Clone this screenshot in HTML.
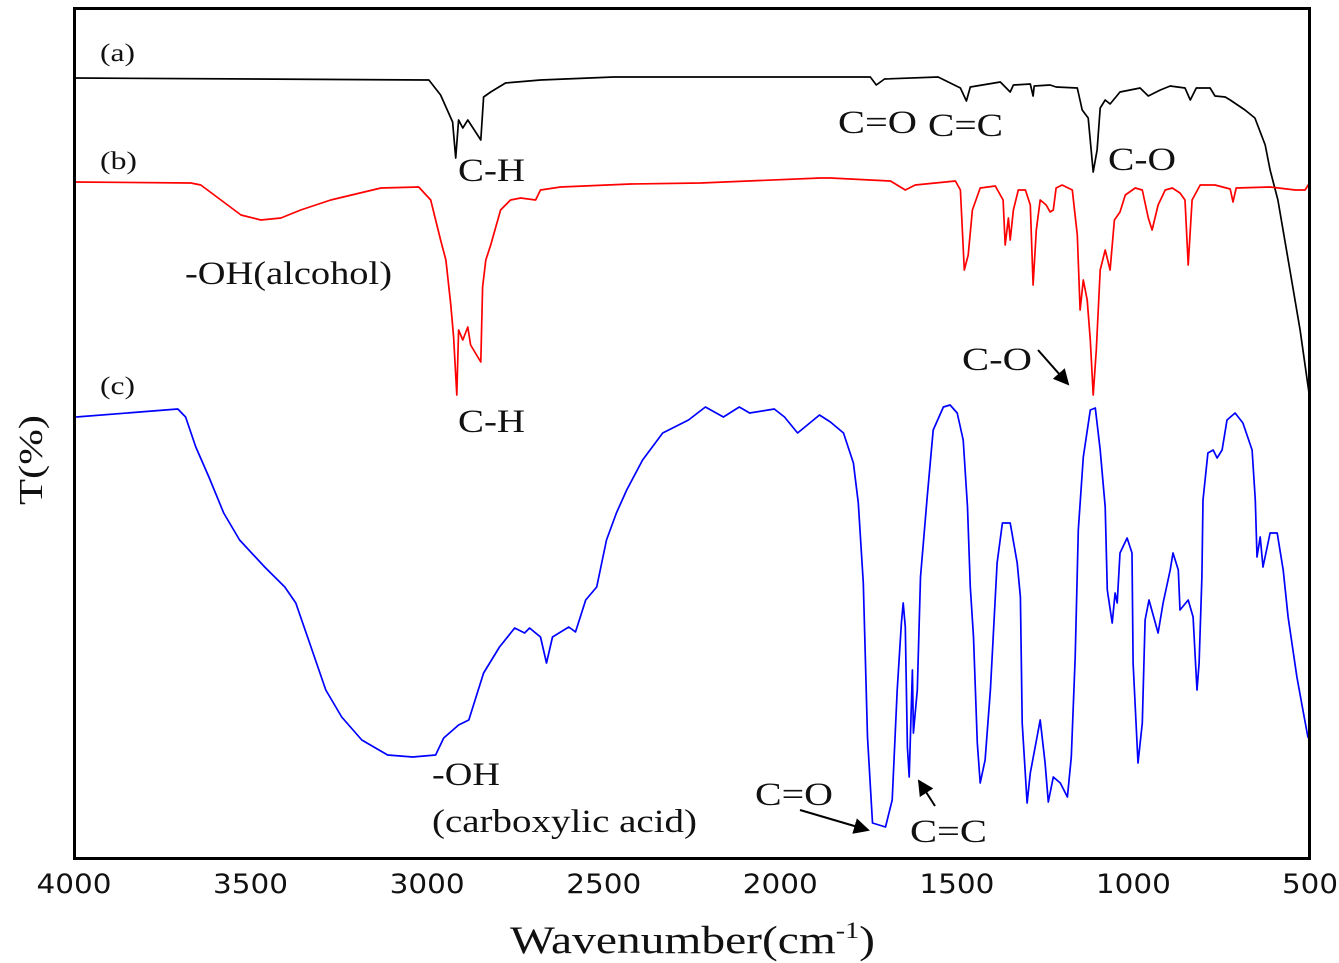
<!DOCTYPE html>
<html><head><meta charset="utf-8"><style>
html,body{margin:0;padding:0;background:#fff;}
svg{display:block;}
.lab{font-family:"Liberation Serif",serif;fill:#111;}
.tick{font-family:"DejaVu Sans","Liberation Sans",sans-serif;font-size:27px;fill:#111;}
</style></head><body>
<svg id="chart" width="1339" height="963" viewBox="0 0 1339 963">
<defs><marker id="ah" markerWidth="8" markerHeight="8" refX="7" refY="4" orient="auto" markerUnits="strokeWidth"><path d="M0,0 L8,4 L0,8 z" fill="#000"/></marker></defs>
<g id="series"></g>
<rect x="74.5" y="8.5" width="1235" height="850" fill="none" stroke="#000" stroke-width="3"/>
<g id="ticks"></g>
<text class="lab" x="100" y="61" font-size="25" textLength="35" lengthAdjust="spacingAndGlyphs">(a)</text>
<text class="lab" x="100" y="169" font-size="25" textLength="37" lengthAdjust="spacingAndGlyphs">(b)</text>
<text class="lab" x="100" y="394" font-size="25" textLength="35" lengthAdjust="spacingAndGlyphs">(c)</text>
<text class="lab" x="458" y="181" font-size="33" textLength="67" lengthAdjust="spacingAndGlyphs">C-H</text>
<text class="lab" x="838" y="133" font-size="33" textLength="79" lengthAdjust="spacingAndGlyphs">C=O</text>
<text class="lab" x="928" y="136" font-size="33" textLength="75" lengthAdjust="spacingAndGlyphs">C=C</text>
<text class="lab" x="1108" y="170" font-size="33" textLength="68" lengthAdjust="spacingAndGlyphs">C-O</text>
<text class="lab" x="185" y="284" font-size="33" textLength="207" lengthAdjust="spacingAndGlyphs">-OH(alcohol)</text>
<text class="lab" x="458" y="432" font-size="33" textLength="67" lengthAdjust="spacingAndGlyphs">C-H</text>
<text class="lab" x="962" y="370" font-size="33" textLength="70" lengthAdjust="spacingAndGlyphs">C-O</text>
<line x1="1038" y1="350" x2="1068" y2="384" stroke="#000" stroke-width="2" marker-end="url(#ah)"/>
<text class="lab" x="432" y="785" font-size="33" textLength="68" lengthAdjust="spacingAndGlyphs">-OH</text>
<text class="lab" x="432" y="832" font-size="33" textLength="265" lengthAdjust="spacingAndGlyphs">(carboxylic acid)</text>
<text class="lab" x="755" y="805" font-size="33" textLength="78" lengthAdjust="spacingAndGlyphs">C=O</text>
<line x1="800" y1="810" x2="868" y2="830" stroke="#000" stroke-width="2" marker-end="url(#ah)"/>
<text class="lab" x="910" y="842" font-size="33" textLength="77" lengthAdjust="spacingAndGlyphs">C=C</text>
<line x1="935" y1="806" x2="919" y2="781" stroke="#000" stroke-width="2" marker-end="url(#ah)"/>
<text class="lab" transform="translate(42,460) rotate(-90)" text-anchor="middle" font-size="34" textLength="90" lengthAdjust="spacingAndGlyphs">T(%)</text>
<text class="lab" x="510" y="953" font-size="39" textLength="365" lengthAdjust="spacingAndGlyphs">Wavenumber(cm<tspan dy="-15" font-size="23">-1</tspan><tspan dy="15">)</tspan></text>
</svg>
<script>
const xTicks = [4000,3500,3000,2500,2000,1500,1000,500];
const aWn = [4000,2995,2962,2928,2919,2911,2899,2885,2848,2840,2820,2778,2679,2472,1858,1745,1728,1705,1553,1490,1473,1462,1377,1349,1340,1292,1284,1281,1236,1219,1159,1145,1128,1114,1103,1094,1080,1066,1038,981,958,924,896,854,839,822,783,769,740,726,684,656,627,613,591,557,528,500];
const aT = [780,778,763,736,700,738,730,738,718,761,766,775,778,781,781,781,773,779,781,770,757,771,776,766,773,774,762,772,773,771,770,748,740,686,708,750,758,754,766,770,762,768,772,770,758,770,770,762,761,758,748,740,713,688,658,588,528,458];
const bWn = [4000,3669,3641,3584,3527,3471,3414,3358,3273,3131,3024,2990,2962,2947,2933,2925,2916,2911,2899,2885,2877,2848,2843,2834,2820,2792,2764,2735,2693,2679,2622,2424,2226,1886,1858,1688,1646,1618,1504,1490,1479,1468,1456,1434,1391,1369,1363,1354,1349,1340,1326,1306,1292,1284,1275,1264,1247,1236,1227,1219,1202,1173,1159,1151,1142,1131,1122,1114,1105,1094,1080,1066,1054,1038,1023,995,975,958,947,930,910,890,868,854,845,834,811,769,726,718,709,613,542,514,505,500];
const bT = [676,675,673,658,643,638,640,648,658,670,671,658,618,598,553,521,463,528,518,531,513,496,571,598,613,648,658,660,658,668,671,674,675,680,680,677,668,673,677,668,588,603,648,670,672,658,613,640,618,648,668,668,653,573,628,658,653,646,648,670,673,668,623,548,578,558,518,463,508,588,608,588,638,646,663,670,668,640,628,653,668,670,665,658,593,658,673,673,669,656,670,671,668,668,673,673];
const cWn = [3994,3706,3684,3655,3618,3576,3531,3460,3403,3372,3329,3287,3242,3185,3112,3041,2976,2953,2911,2882,2840,2795,2752,2724,2710,2679,2662,2645,2599,2580,2551,2520,2492,2464,2435,2390,2333,2260,2212,2161,2116,2087,2017,1988,1951,1889,1858,1821,1793,1779,1765,1753,1739,1702,1683,1669,1657,1652,1646,1640,1635,1626,1623,1612,1603,1584,1567,1538,1519,1499,1482,1470,1462,1453,1442,1434,1420,1405,1386,1371,1349,1329,1320,1315,1301,1292,1264,1250,1241,1227,1207,1187,1176,1165,1156,1142,1122,1108,1094,1080,1074,1060,1052,1046,1038,1018,1004,1001,987,975,967,956,930,916,896,888,873,868,845,831,825,820,814,806,803,789,774,763,749,735,712,690,664,655,650,641,633,613,593,576,562,537,520,506,500];
const cT = [441,449,441,411,381,345,318,291,271,255,211,168,141,118,103,101,103,120,133,138,185,211,230,225,230,221,195,221,231,226,258,271,318,345,368,398,425,438,451,441,451,445,449,441,425,443,436,425,395,355,275,121,35,31,58,168,235,255,231,111,81,188,125,168,281,361,428,451,453,445,418,351,271,221,115,75,98,168,295,335,335,295,261,135,55,85,138,95,56,81,75,61,101,201,328,401,448,450,408,351,268,235,265,255,305,320,305,195,95,135,238,258,225,255,288,305,288,248,258,241,201,168,195,281,358,405,408,400,408,438,445,435,408,358,301,321,291,325,325,288,241,181,148,121,118];

const X0 = 74, X1 = 1310, Y0 = 858;
function xScale(w){ return X0 + (4000 - w) * (X1 - X0) / 3500; }
function yScale(v){ return Y0 - v; }
const NS = 'http://www.w3.org/2000/svg';
const g = document.getElementById('series');
function drawSeries(wn, t, color, name){
  let d = '';
  for (let i = 0; i < wn.length; i++) d += (i ? 'L' : 'M') + xScale(wn[i]).toFixed(1) + ',' + yScale(t[i]).toFixed(1);
  const p = document.createElementNS(NS, 'path');
  p.setAttribute('d', d);
  p.setAttribute('fill', 'none');
  p.setAttribute('stroke', color);
  p.setAttribute('stroke-width', '1.7');
  p.setAttribute('stroke-linejoin', 'round');
  
  
  g.appendChild(p);
}
drawSeries(aWn, aT, '#000', 'spectrum-a');
drawSeries(bWn, bT, '#ff0000', 'spectrum-b');
drawSeries(cWn, cT, '#0000ff', 'spectrum-c');
const tg = document.getElementById('ticks');
xTicks.forEach(v => {
  const t = document.createElementNS(NS, 'text');
  const w = String(v).length === 4 ? 75 : 56;
  t.setAttribute('x', xScale(v) - w / 2);
  t.setAttribute('y', 893);
  t.setAttribute('textLength', w);
  t.setAttribute('lengthAdjust', 'spacingAndGlyphs');
  t.setAttribute('class', 'tick');
  
  
  t.textContent = v;
  tg.appendChild(t);
});
</script>
</body></html>
